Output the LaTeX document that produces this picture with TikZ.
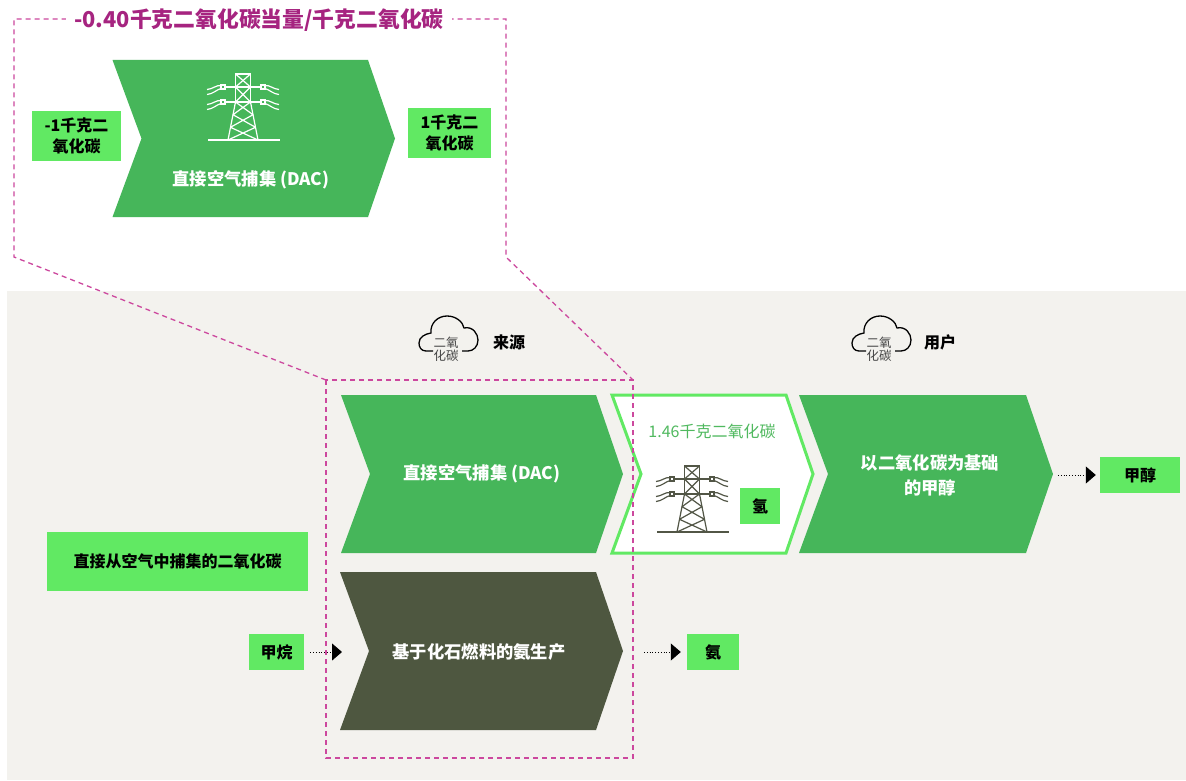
\documentclass[tikz,border=0pt]{standalone}
\usepackage{fontspec}
\setmainfont{Noto Sans CJK SC}
\usetikzlibrary{arrows.meta}
\definecolor{chevgreen}{RGB}{70,182,90}
\definecolor{boxgreen}{RGB}{97,233,99}
\definecolor{darkolive}{RGB}{78,87,64}
\definecolor{panelgray}{RGB}{243,242,238}
\definecolor{magtitle}{RGB}{166,36,128}
\definecolor{magdash}{RGB}{204,72,158}
\definecolor{pylongray}{RGB}{82,86,70}
\definecolor{textgreen}{RGB}{80,185,95}
\definecolor{cloudtext}{RGB}{70,70,70}
\newcommand\chevshape[5]{\path[#1] (#2,#4) -- (#3,#4) -- ({#3+27},{(#4+#5)/2}) -- (#3,#5) -- (#2,#5) -- ({#2+29},{(#4+#5)/2}) -- cycle;}
\newcommand\pylonicon[3]{%
\begin{scope}[shift={(#1,#2)}, line width=1.2]
 \draw[#3] (-7.5,0) rectangle (7.5,28);
 \draw[#3] (-7.5,0) -- (7.5,13) (7.5,0) -- (-7.5,13) (-7.5,13) -- (7.5,28) (7.5,13) -- (-7.5,28);
 \draw[#3] (-7.5,28) -- (-15,66) (7.5,28) -- (15,66);
 \draw[#3] (-7.5,28) -- (10,40.7) (7.5,28) -- (-10,40.7) (-10,40.7) -- (12.5,53.3) (10,40.7) -- (-12.5,53.3) (-12.5,53.3) -- (15,66) (12.5,53.3) -- (-15,66);
 \draw[#3] (-18.5,13) -- (18.5,13) (-18.5,28) -- (18.5,28);
 \foreach \yy in {13,28}{
  \draw[#3] (-22,\yy-2) rectangle (-18,\yy+2);
  \draw[#3] (22,\yy-2) rectangle (18,\yy+2);
  \draw[#3] (-22,\yy-1.5) .. controls (-27,\yy-2) and (-30,\yy+2) .. (-36,\yy+2.5);
  \draw[#3] (-22,\yy+1.5) .. controls (-27,\yy+3) and (-30,\yy+7) .. (-36,\yy+7.5);
  \draw[#3] (22,\yy-1.5) .. controls (27,\yy-2) and (30,\yy+2) .. (36,\yy+2.5);
  \draw[#3] (22,\yy+1.5) .. controls (27,\yy+3) and (30,\yy+7) .. (36,\yy+7.5);
 }
 \draw[#3] (-35,66) -- (37,66);
\end{scope}}
\newcommand\cloudicon[3]{%
\begin{scope}[shift={(#1,#2)}]
\draw[black, line width=1.3] (-16,16) -- (-23,16) .. controls (-28,16) and (-30,12) .. (-30,8) .. controls (-30,2) and (-24,-1) .. (-18,-2) .. controls (-19,-12) and (-11,-19) .. (-2,-19) .. controls (7,-19) and (14,-13) .. (15,-7) .. controls (24,-9) and (29,-1) .. (29,5) .. controls (29,12) and (24,16) .. (19,16) -- (13,16);
\node[font=\fontsize{12.5}{13}\selectfont, text=cloudtext, align=center, inner sep=0] (#3) at (-3,14.5) {二氧\\化碳};
\end{scope}}
\begin{document}
\begin{tikzpicture}[x=1pt,y=-1pt,
  chevtxt/.style={text=white, font=\bfseries\fontsize{17.3}{25}\selectfont, align=center, inner sep=0},
  blk/.style={text=black, font=\bfseries\fontsize{16}{21}\selectfont, align=center, inner sep=0},
  gbox/.style={blk, fill=boxgreen},
  mdash/.style={draw=magdash, line width=1.3, dash pattern=on 5pt off 4pt},
  dotarr/.style={draw=black, line width=1, dash pattern=on 1pt off 1.8pt, -{Triangle[length=10pt,width=17pt]}}]
\useasboundingbox (0,0) rectangle (1186,781);
\fill[white] (0,0) rectangle (1186,781);
\fill[panelgray] (7,291) rectangle (1186,780);

% top detail
\chevshape{fill=chevgreen}{112.5}{368}{60}{217}
\pylonicon{243}{74}{white}
\node[chevtxt] (dactop) at (251,180) {直接空气捕集 (DAC)};
\node[gbox, minimum width=89, minimum height=50] (co2in) at (76.5,136) {-1千克二\\氧化碳};
\node[gbox, minimum width=83, minimum height=50] (co2out) at (449.5,133) {1千克二\\氧化碳};

% headers
\cloudicon{449}{335}{cloudA}
\cloudicon{882}{335}{cloudB}
\node[blk] (srclbl) at (509,342) {来源};
\node[blk] (userlbl) at (940,342) {用户};

% middle row
\chevshape{fill=chevgreen}{341}{596}{395}{553}
\node[chevtxt] (dacmid) at (482,474) {直接空气捕集 (DAC)};
\chevshape{fill=white, draw=boxgreen, line width=3}{612}{786}{395}{553}
\node[text=textgreen, font=\fontsize{16}{20}\selectfont, inner sep=0] (amount) at (712,431) {1.46千克二氧化碳};
\pylonicon{692}{466}{pylongray}
\node[gbox, minimum width=40, minimum height=36] (h2) at (760,506) {氢};
\chevshape{fill=chevgreen}{799}{1026}{395}{553}
\node[chevtxt] (methchev) at (930,475) {以二氧化碳为基础\\的甲醇};
\node[gbox, minimum width=80, minimum height=36] (methanol) at (1140,475) {甲醇};

% lower row
\node[gbox, minimum width=261, minimum height=59] (dacco2) at (177.5,561.5) {直接从空气中捕集的二氧化碳};
\chevshape{fill=darkolive}{340}{596}{572}{730}
\node[chevtxt] (nh3chev) at (479,652) {基于化石燃料的氨生产};
\node[gbox, minimum width=55, minimum height=36] (methane) at (276.5,652) {甲烷};
\node[gbox, minimum width=52, minimum height=36] (ammonia) at (713,652) {氨};

% connectors
\coordinate (nh3in) at (342,652);
\coordinate (nh3out) at (644,652);
\coordinate (methout) at (1058,475);
\draw[dotarr, shorten <=6pt] (methane.east) -- (nh3in);
\draw[dotarr, shorten >=6pt] (nh3out) -- (ammonia.west);
\draw[dotarr, shorten >=4pt] (methout) -- (methanol.west);

% dashed outlines
\draw[mdash] (326,380) -- (14,257) -- (14,19) -- (506,19) -- (506,257) -- (633,380);
\draw[mdash] (326,380) rectangle (633,758);
\node[fill=white, inner xsep=8, inner ysep=1, text=magtitle, font=\bfseries\fontsize{21.8}{24}\selectfont] (title) at (259,20) {-0.40千克二氧化碳当量/千克二氧化碳};
\end{tikzpicture}
\end{document}
